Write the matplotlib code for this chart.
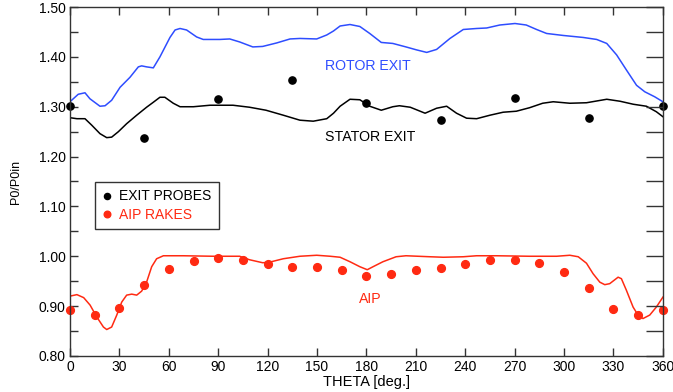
import numpy as np
import matplotlib
matplotlib.use("Agg")
import matplotlib.pyplot as plt
from matplotlib.ticker import MultipleLocator

plt.rcParams['font.family'] = ['Liberation Sans', 'DejaVu Sans']

# rotor exit (blue line)
rotor_theta = [0, 5, 9.1, 12.1, 18.2, 21.3, 25.3, 30.4, 36.4, 41.5, 43.5, 46.5, 50.6, 54.6,
               60.7, 63.8, 66.8, 70.8, 76.9, 80.9, 91, 97, 103, 111, 117, 125.5, 133.6,
               139.6, 149.8, 155.9, 160, 164, 170, 176, 182, 189, 196, 204, 210.5, 216.6,
               222.6, 230.7, 238.8, 246.9, 253, 261, 270.2, 277, 283.3, 289.4, 299.5,
               311.6, 319.8, 325.9, 331.9, 338, 344, 349, 355, 360]
rotor_p0 = [1.310, 1.325, 1.328, 1.316, 1.301, 1.302, 1.313, 1.339, 1.359, 1.380, 1.382,
            1.380, 1.378, 1.400, 1.439, 1.454, 1.457, 1.454, 1.440, 1.435, 1.435, 1.436,
            1.430, 1.420, 1.421, 1.428, 1.436, 1.437, 1.436, 1.444, 1.452, 1.462, 1.465,
            1.461, 1.447, 1.429, 1.427, 1.420, 1.414, 1.409, 1.415, 1.437, 1.455, 1.457,
            1.458, 1.464, 1.467, 1.464, 1.455, 1.447, 1.443, 1.439, 1.435, 1.427, 1.404,
            1.373, 1.343, 1.330, 1.320, 1.310]

# stator exit (black line)
stator_theta = [0, 4.2, 9.1, 13.2, 18.2, 22.3, 25.3, 29.4, 34.4, 40.5, 46.5, 50.6, 54.6,
                57.6, 62.7, 66.8, 74.9, 85, 99, 109, 119, 129.5, 139.6, 147.7, 155.9, 160,
                164, 170, 176, 182, 189, 196, 200, 206.6, 215.6, 222.6, 228.7, 234.7,
                240.8, 246.9, 255, 263, 271, 279, 287, 293.4, 303.5, 313.6, 325.9, 334,
                342, 350, 356, 360]
stator_p0 = [1.278, 1.276, 1.276, 1.263, 1.246, 1.238, 1.239, 1.250, 1.266, 1.283, 1.299,
             1.309, 1.319, 1.319, 1.307, 1.300, 1.300, 1.303, 1.303, 1.299, 1.293, 1.283,
             1.273, 1.271, 1.276, 1.287, 1.301, 1.315, 1.314, 1.301, 1.293, 1.300, 1.302,
             1.299, 1.287, 1.297, 1.301, 1.287, 1.277, 1.276, 1.283, 1.289, 1.291, 1.298,
             1.307, 1.310, 1.307, 1.308, 1.315, 1.311, 1.305, 1.301, 1.290, 1.280]

# AIP (red line)
aip_theta = [0, 4.2, 8.3, 12.2, 16.3, 20.3, 22.3, 25.3, 28.4, 31.4, 34.4, 37.5, 40.5, 43.5,
             46.5, 49.6, 52.6, 56.7, 68.8, 87, 99, 103, 109, 117, 121, 129.5, 139.6, 149.8,
             158, 164, 170, 176, 180.5, 184, 190, 198, 204, 218.6, 226.7, 238.8, 246.9,
             259, 279, 295.5, 303.5, 308.6, 313.6, 317.6, 321.7, 324.7, 327.7, 332.8,
             334.8, 337.8, 341.9, 344.9, 347.9, 352, 356, 360]
aip_p0 = [0.920, 0.923, 0.917, 0.902, 0.878, 0.858, 0.853, 0.858, 0.882, 0.908, 0.922,
          0.924, 0.922, 0.930, 0.948, 0.979, 0.995, 1.001, 1.001, 1.000, 1.000, 1.000,
          0.993, 0.987, 0.988, 0.995, 1.000, 1.002, 1.000, 0.998, 0.989, 0.979, 0.973,
          0.979, 0.989, 0.999, 1.001, 0.999, 0.998, 0.999, 1.001, 1.001, 1.000, 1.000,
          1.002, 0.999, 0.986, 0.965, 0.948, 0.943, 0.945, 0.958, 0.955, 0.932, 0.898,
          0.882, 0.875, 0.882, 0.898, 0.918]

# exit probes (black dots)
probe_theta = [0, 45, 90, 135, 180, 225, 270, 315, 360]
probe_p0 = [1.302, 1.237, 1.316, 1.354, 1.308, 1.274, 1.318, 1.277, 1.302]

# AIP rakes (red dots)
rake_theta = list(range(0, 361, 15))
rake_p0 = [0.892, 0.883, 0.896, 0.942, 0.974, 0.990, 0.997, 0.993, 0.985, 0.979, 0.979,
           0.972, 0.960, 0.964, 0.973, 0.977, 0.985, 0.993, 0.993, 0.987, 0.968, 0.937,
           0.894, 0.883, 0.892]

blue = '#2e4dff'
red = '#ff2a12'
spine_col = '#333333'

fig = plt.figure(figsize=(6.73, 3.92), dpi=100)
ax = fig.add_axes([0.104, 0.092, 0.881, 0.890])

ax.plot(rotor_theta, rotor_p0, color=blue, lw=1.1)
ax.plot(stator_theta, stator_p0, color='black', lw=1.1)
ax.plot(aip_theta, aip_p0, color=red, lw=1.1)
ax.plot(probe_theta, probe_p0, 'o', color='black', ms=5.2, clip_on=False, label='EXIT PROBES')
ax.plot(rake_theta, rake_p0, 'o', color=red, ms=5.6, clip_on=False, label='AIP RAKES')

ax.text(181, 1.381, 'ROTOR EXIT', color=blue, fontsize=10.2, ha='center', va='center')
ax.text(182, 1.239, 'STATOR EXIT', color='black', fontsize=10.2, ha='center', va='center')
ax.text(182.5, 0.915, 'AIP', color=red, fontsize=10.2, ha='center', va='center')

ax.set_xlim(0, 360)
ax.set_ylim(0.80, 1.50)
ax.xaxis.set_major_locator(MultipleLocator(30))
ax.yaxis.set_major_locator(MultipleLocator(0.1))
ax.yaxis.set_minor_locator(MultipleLocator(0.05))
ax.yaxis.set_major_formatter(matplotlib.ticker.FormatStrFormatter('%.2f'))
ax.tick_params(axis='both', which='both', direction='in', top=True, right=False,
               length=6, width=1, color=spine_col, labelsize=10, pad=3)
ax.tick_params(axis='y', which='minor', length=6)
for s in ax.spines.values():
    s.set_color(spine_col)
    s.set_linewidth(1)

ax2 = ax.twinx()
ax2.set_ylim(0.80, 1.50)
ax2.yaxis.set_major_locator(MultipleLocator(0.05))
ax2.tick_params(axis='y', direction='in', length=12, width=1, color=spine_col,
                labelright=False)
for s in ax2.spines.values():
    s.set_visible(False)

ax.set_xlabel('THETA [deg.]', fontsize=10.5, labelpad=1)
ax.set_ylabel('P0/P0in', fontsize=9, labelpad=12)

leg = ax.legend(loc='upper left', bbox_to_anchor=(0.042, 0.499), borderaxespad=0,
                frameon=True, fancybox=False, fontsize=10, handlelength=0.6,
                handletextpad=0.6, borderpad=0.55, labelspacing=0.3, markerscale=0.85)
leg.get_frame().set_edgecolor('black')
leg.get_frame().set_linewidth(1)
for t, c in zip(leg.get_texts(), ['black', red]):
    t.set_color(c)

fig.savefig('out.png', dpi=100)
